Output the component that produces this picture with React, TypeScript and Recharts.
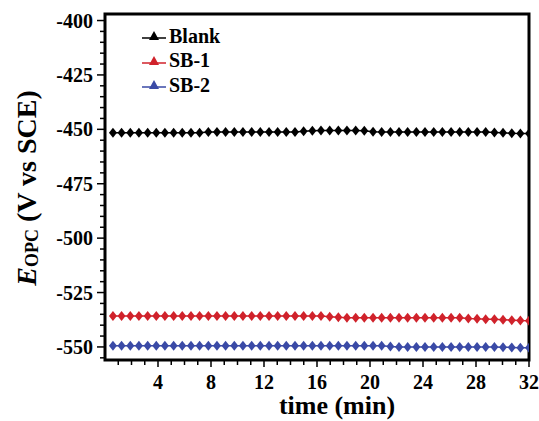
import React from 'react';
import { LineChart, Line, XAxis, YAxis, ReferenceArea, Legend } from 'recharts';

// Open-circuit potential vs. time for the blank and the two inhibitor samples
const times = [
  0.6, 1.25, 1.91, 2.56, 3.22, 3.87, 4.52, 5.18, 5.83, 6.49, 7.14, 7.8, 8.45, 9.1, 9.76, 10.41,
  11.07, 11.72, 12.38, 13.03, 13.68, 14.34, 14.99, 15.65, 16.3, 16.96, 17.61, 18.26, 18.92, 19.57,
  20.23, 20.88, 21.54, 22.19, 22.84, 23.5, 24.15, 24.81, 25.46, 26.12, 26.77, 27.42, 28.08, 28.73,
  29.39, 30.04, 30.7, 31.35, 32.0,
];
const blank = [
  -451.6, -451.6, -451.6, -451.6, -451.6, -451.6, -451.6, -451.6, -451.6, -451.6, -451.6, -451.2,
  -451.2, -451.2, -451.2, -451.2, -451.2, -451.2, -451.2, -451.2, -451.2, -451.2, -450.9, -450.6,
  -450.5, -450.5, -450.5, -450.5, -450.5, -450.6, -451.1, -451.2, -451.2, -451.2, -451.2, -451.2,
  -451.2, -451.2, -451.2, -451.2, -451.2, -451.2, -451.2, -451.2, -451.4, -451.6, -451.8, -451.9,
  -451.9,
];
const sb1 = [
  -535.8, -535.8, -535.8, -535.8, -535.8, -535.8, -535.8, -535.8, -535.8, -535.8, -535.8, -535.8,
  -535.8, -535.8, -535.8, -535.8, -535.8, -535.8, -535.8, -535.8, -535.8, -535.8, -535.8, -535.8,
  -535.8, -536.1, -536.4, -536.6, -536.6, -536.6, -536.6, -536.6, -536.6, -536.6, -536.6, -536.6,
  -536.6, -536.6, -536.6, -536.6, -536.6, -536.9, -537.1, -537.3, -537.3, -537.5, -537.7, -537.9,
  -538.0,
];
const sb2 = [
  -549.4, -549.4, -549.4, -549.4, -549.4, -549.4, -549.4, -549.4, -549.4, -549.4, -549.4, -549.4,
  -549.4, -549.4, -549.4, -549.4, -549.4, -549.4, -549.4, -549.4, -549.4, -549.4, -549.4, -549.4,
  -549.4, -549.4, -549.4, -549.4, -549.4, -549.4, -549.4, -549.4, -549.8, -550.0, -550.0, -550.0,
  -550.0, -550.0, -550.0, -550.0, -550.0, -550.0, -550.0, -550.0, -550.0, -550.1, -550.2, -550.4,
  -550.4,
];

const seriesNames = ['Blank', 'SB-1', 'SB-2'];
const seriesColors = ['#000000', '#d0222b', '#3a4aa6'];

const xMajorTicks = [4, 8, 12, 16, 20, 24, 28, 32];
const xAllTicks = [1, 2, 3, 4, 5, 6, 7, 8, 9, 10, 11, 12, 13, 14, 15, 16, 17, 18, 19, 20, 21, 22, 23, 24, 25, 26, 27, 28, 29, 30, 31, 32];
const yMajorTicks = [-550, -525, -500, -475, -450, -425, -400];
const yAllTicks = [
  -555, -550, -545, -540, -535, -530, -525, -520, -515, -510, -505, -500, -495, -490, -485, -480,
  -475, -470, -465, -460, -455, -450, -445, -440, -435, -430, -425, -420, -415, -410, -405, -400,
];

const X_DOMAIN: [number, number] = [0, 32];
const Y_DOMAIN: [number, number] = [-556, -397];

const data = times.map((t, i) => ({ t, blank: blank[i], sb1: sb1[i], sb2: sb2[i] }));

const FONT = "'Times New Roman', 'Liberation Serif', serif";

const makeDiamond = (color: string) => (props: any) => {
  const { cx, cy, index } = props;
  if (cx == null || cy == null) return <g key={index} />;
  return (
    <polygon
      key={index}
      points={`${cx},${cy - 5} ${cx + 4},${cy} ${cx},${cy + 5} ${cx - 4},${cy}`}
      fill={color}
    />
  );
};

const XTick = (props: any) => {
  const { x, y, payload } = props;
  const major = xMajorTicks.includes(payload.value);
  return (
    <g>
      <line x1={x} x2={x} y1={y} y2={y + (major ? 7 : 5)} stroke="#000" strokeWidth={1.5} />
      {major && (
        <text x={x} y={y + 29} textAnchor="middle" fontFamily={FONT} fontWeight="bold" fontSize={20} fill="#000">
          {payload.value}
        </text>
      )}
    </g>
  );
};

const YTick = (props: any) => {
  const { x, y, payload } = props;
  const major = yMajorTicks.includes(payload.value);
  return (
    <g>
      <line x1={x - (major ? 8 : 5)} x2={x} y1={y} y2={y} stroke="#000" strokeWidth={1.5} />
      {major && (
        <text x={x - 12} y={y + 7} textAnchor="end" fontFamily={FONT} fontWeight="bold" fontSize={20} fill="#000">
          {payload.value}
        </text>
      )}
    </g>
  );
};

const XTitle = (props: any) => {
  const { viewBox } = props;
  const cx = viewBox.x + viewBox.width / 2 + 20;
  return (
    <text x={cx} y={414} textAnchor="middle" fontFamily={FONT} fontWeight="bold" fontSize={26} fill="#000">
      time (min)
    </text>
  );
};

const YTitle = () => (
  <text
    x={0}
    y={0}
    transform="translate(36,188) rotate(-90)"
    textAnchor="middle"
    fontFamily={FONT}
    fontWeight="bold"
    fontSize={28}
    fill="#000"
  >
    <tspan fontStyle="italic">E</tspan>
    <tspan fontSize={18} dy={2}>OPC</tspan>
    <tspan dy={-2}> (V vs SCE)</tspan>
  </text>
);

const LegendBox = () => (
  <div style={{ fontFamily: FONT, fontWeight: 'bold', fontSize: 20, lineHeight: '25px' }}>
    {seriesNames.map((name, i) => (
      <div key={name} style={{ display: 'flex', alignItems: 'center', height: 24.5 }}>
        <svg width={27} height={14} style={{ marginRight: 1 }}>
          <line x1={1} x2={25} y1={9} y2={9} stroke={seriesColors[i]} strokeWidth={1.5} />
          <polygon points="13,2 18,11 8,11" fill={seriesColors[i]} />
        </svg>
        <span style={{ color: '#000' }}>{name}</span>
      </div>
    ))}
  </div>
);

export default function App() {
  return (
    <div style={{ position: 'absolute', left: 0, top: 0, width: 539, height: 421, background: '#fff' }}>
      <LineChart width={539} height={421} data={data} margin={{ top: 14, right: 10, bottom: 0, left: 0 }}>
        <XAxis
          dataKey="t"
          type="number"
          domain={X_DOMAIN}
          ticks={xAllTicks}
          interval={0}
          allowDataOverflow
          tickSize={0}
          tickMargin={0}
          axisLine={false}
          tickLine={false}
          tick={<XTick />}
          height={61}
          label={<XTitle />}
        />
        <YAxis
          type="number"
          domain={Y_DOMAIN}
          ticks={yAllTicks}
          interval={0}
          allowDataOverflow
          tickSize={0}
          tickMargin={0}
          axisLine={false}
          tickLine={false}
          tick={<YTick />}
          width={105}
          label={<YTitle />}
        />
        <Legend
          verticalAlign="middle"
          align="center"
          layout="vertical"
          content={<LegendBox />}
          wrapperStyle={{ top: 24, left: 141, width: 120 }}
        />
        <Line dataKey="blank" name="Blank" stroke={seriesColors[0]} strokeWidth={1.5} dot={makeDiamond(seriesColors[0])} isAnimationActive={false} />
        <Line dataKey="sb1" name="SB-1" stroke={seriesColors[1]} strokeWidth={1.5} dot={makeDiamond(seriesColors[1])} isAnimationActive={false} />
        <Line dataKey="sb2" name="SB-2" stroke={seriesColors[2]} strokeWidth={1.5} dot={makeDiamond(seriesColors[2])} isAnimationActive={false} />
        <ReferenceArea
          x1={X_DOMAIN[0]}
          x2={X_DOMAIN[1]}
          y1={Y_DOMAIN[0]}
          y2={Y_DOMAIN[1]}
          fill="none"
          stroke="#000"
          strokeWidth={3}
          ifOverflow="visible"
        />
      </LineChart>
    </div>
  );
}
